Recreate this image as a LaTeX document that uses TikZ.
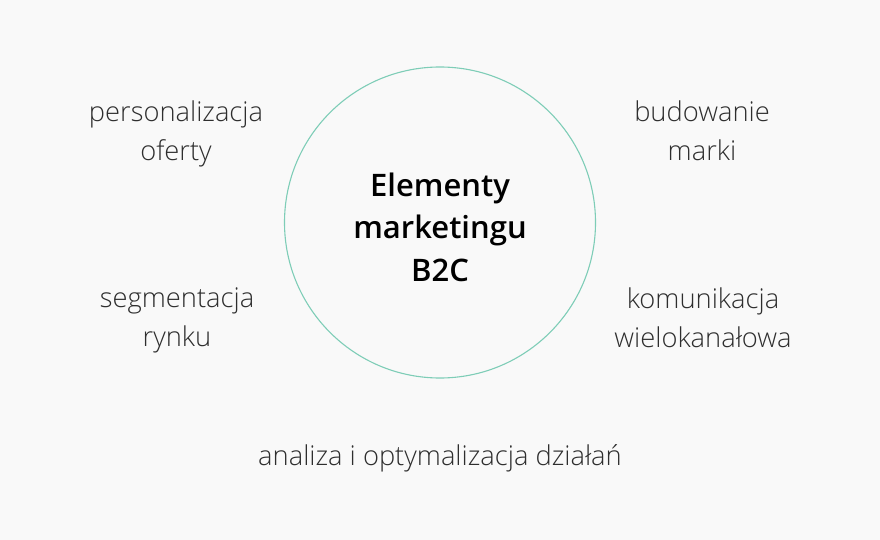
\documentclass[tikz,border=0pt]{standalone}
\usepackage{fontspec}
\setmainfont{Open Sans}[UprightFont=* Light, BoldFont=* Semibold]
\definecolor{bgc}{HTML}{F9F9F9}
\definecolor{ringc}{HTML}{7ECDB7}
\definecolor{txt}{HTML}{2E2E2E}
\begin{document}
\begin{tikzpicture}[x=1pt,y=-1pt,
  lbl/.style={align=center,text=txt,font=\fontsize{27.3}{39}\selectfont,inner sep=0pt},
  ctr/.style={align=center,text=black,font=\bfseries\fontsize{31}{42.5}\selectfont,inner sep=0pt}]
\fill[bgc] (0,0) rectangle (880,540);
\useasboundingbox (0,0) rectangle (880,540);
\node[circle,draw=ringc,line width=1.1pt,minimum size=311pt,inner sep=0pt] (c) at (440,222.5) {};
\node[ctr] (t) at (440,227) {Elementy\\marketingu\\B2C};
\node[lbl] (a) at (176,134) {personalizacja\\oferty};
\node[lbl] (b) at (702,131) {budowanie\\marki};
\node[lbl] (s) at (177,320) {segmentacja\\rynku};
\node[lbl] (k) at (703,317.5) {komunikacja\\wielokanałowa};
\node[lbl] (z) at (440,458) {analiza i optymalizacja działań};
\end{tikzpicture}
\end{document}
